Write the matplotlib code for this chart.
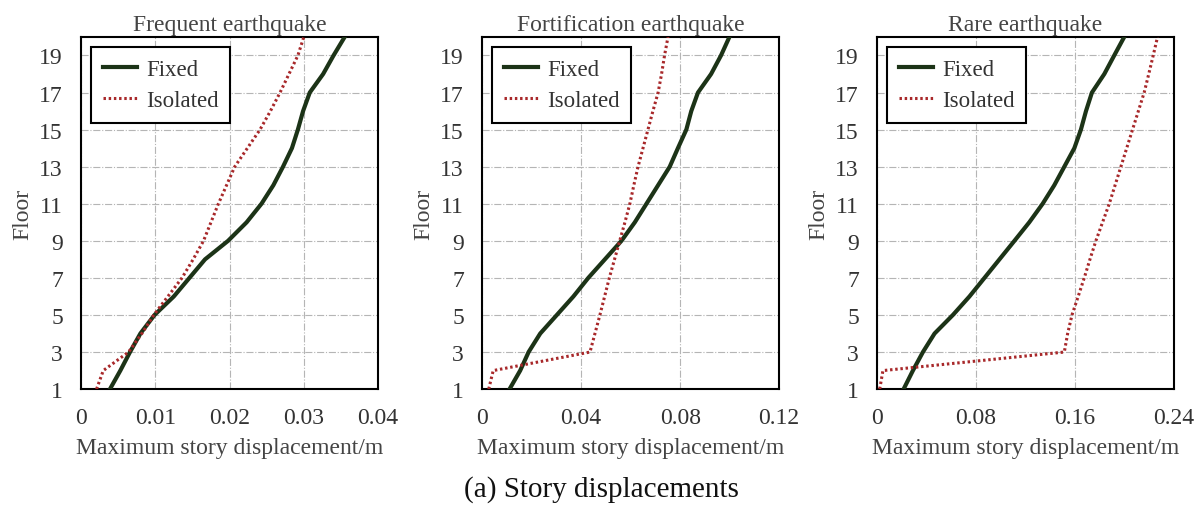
import matplotlib.pyplot as plt

plt.rcParams['font.family'] = ['Liberation Serif', 'DejaVu Serif']

floors = list(range(1, 21))

# frequent earthquake (m)
freq_fixed = [0.0039, 0.0053, 0.0066, 0.0080, 0.0099, 0.0125, 0.0146, 0.0167, 0.0198, 0.0223,
              0.0243, 0.0259, 0.0272, 0.0284, 0.0292, 0.0299, 0.0308, 0.0326, 0.0340, 0.0355]
freq_iso = [0.0021, 0.0030, 0.0064, 0.0082, 0.0098, 0.0117, 0.0136, 0.0151, 0.0165, 0.0175,
            0.0185, 0.0196, 0.0207, 0.0224, 0.0241, 0.0255, 0.0268, 0.0280, 0.0292, 0.0300]

# fortification earthquake (m)
fort_fixed = [0.0111, 0.0154, 0.0188, 0.0235, 0.0302, 0.0369, 0.0429, 0.0496, 0.0563, 0.0617,
              0.0664, 0.0711, 0.0758, 0.0791, 0.0825, 0.0845, 0.0872, 0.0925, 0.0965, 0.0999]
fort_iso = [0.0027, 0.0045, 0.0436, 0.0456, 0.0476, 0.0495, 0.0514, 0.0535, 0.0556, 0.0577,
            0.0597, 0.0613, 0.0630, 0.0650, 0.0670, 0.0690, 0.0711, 0.0725, 0.0737, 0.0751]

# rare earthquake (m)
rare_fixed = [0.0215, 0.0290, 0.0371, 0.0465, 0.0613, 0.0747, 0.0868, 0.0989, 0.1110, 0.1230,
              0.1338, 0.1432, 0.1513, 0.1594, 0.1647, 0.1688, 0.1736, 0.1836, 0.1916, 0.1997]
rare_iso = [0.0022, 0.0048, 0.1513, 0.1540, 0.1575, 0.1625, 0.1674, 0.1720, 0.1768, 0.1822,
            0.1876, 0.1923, 0.1970, 0.2017, 0.2064, 0.2111, 0.2158, 0.2195, 0.2231, 0.2266]

titles = ["Frequent earthquake", "Fortification earthquake", "Rare earthquake"]
xmaxes = [0.04, 0.12, 0.24]
xticks = [[0, 0.01, 0.02, 0.03, 0.04], [0, 0.04, 0.08, 0.12], [0, 0.08, 0.16, 0.24]]
xticklabels = [["0", "0.01", "0.02", "0.03", "0.04"], ["0", "0.04", "0.08", "0.12"],
               ["0", "0.08", "0.16", "0.24"]]
fixed_all = [freq_fixed, fort_fixed, rare_fixed]
iso_all = [freq_iso, fort_iso, rare_iso]

fig = plt.figure(figsize=(12.03, 5.06), dpi=100)
lefts = [0.0673, 0.4007, 0.729]
for i in range(3):
    ax = fig.add_axes([lefts[i], 0.229, 0.247, 0.696])
    ax.plot(fixed_all[i], floors, color="#1c3317", lw=3.0, label="Fixed", zorder=3)
    ax.plot(iso_all[i], floors, color="#a8282a", lw=2.2, ls=(0, (0.8, 0.9)),
            label="Isolated", zorder=3)
    ax.set_xlim(0, xmaxes[i])
    ax.set_ylim(1, 20)
    ax.set_xticks(xticks[i])
    ax.set_xticklabels(xticklabels[i])
    ax.set_yticks(range(1, 20, 2))
    ax.grid(True, color="#b5b5b5", lw=0.8, ls="-.")
    ax.tick_params(length=0, labelsize=17, labelcolor="#333333")
    ax.tick_params(axis="y", pad=13)
    ax.tick_params(axis="x", pad=13)
    for s in ax.spines.values():
        s.set_linewidth(1.5)
        s.set_color("black")
    ax.set_title(titles[i], fontsize=17, color="#444444", pad=5)
    ax.set_xlabel("Maximum story displacement/m", fontsize=17, color="#444444", labelpad=6)
    ax.set_ylabel("Floor", fontsize=17, color="#444444", labelpad=4)
    leg = ax.legend(loc="upper left", fontsize=16.5, fancybox=False, framealpha=1,
                    edgecolor="black", handlelength=1.5, handletextpad=0.4,
                    labelspacing=0.45, borderpad=0.5, borderaxespad=0.45)
    leg.get_frame().set_linewidth(1.5)
    for t in leg.get_texts():
        t.set_color("#333333")

fig.text(0.5, 1 - 490 / 506, "(a) Story displacements", ha="center", va="center",
         fontsize=21, color="#111111")

fig.savefig("out.png", dpi=100, facecolor="white")
